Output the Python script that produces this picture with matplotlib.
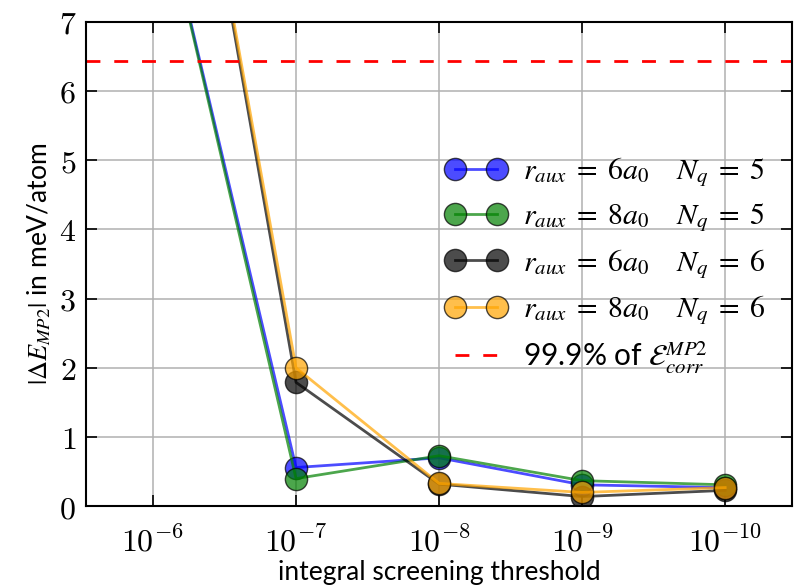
import matplotlib
matplotlib.use("Agg")
import matplotlib.pyplot as plt
from matplotlib.font_manager import FontProperties

# screening thresholds and MP2 errors (meV/atom)
thresholds = [1e-6, 1e-7, 1e-8, 1e-9, 1e-10]
err_r6_nq5 = [9.3, 0.56, 0.70, 0.31, 0.27]
err_r8_nq5 = [9.3, 0.40, 0.73, 0.37, 0.31]
err_r6_nq6 = [13.5, 1.79, 0.32, 0.14, 0.23]
err_r8_nq6 = [13.5, 2.00, 0.33, 0.20, 0.27]
corr_999 = 6.43

series = [
    (err_r6_nq5, "blue", r"$r_{aux}\;=\;6a_0\quad\; N_q\;=\;5$"),
    (err_r8_nq5, "green", r"$r_{aux}\;=\;8a_0\quad\; N_q\;=\;5$"),
    (err_r6_nq6, "black", r"$r_{aux}\;=\;6a_0\quad\; N_q\;=\;6$"),
    (err_r8_nq6, "orange", r"$r_{aux}\;=\;8a_0\quad\; N_q\;=\;6$"),
]
xtick_labels = [r"$10^{-6}$", r"$10^{-7}$", r"$10^{-8}$", r"$10^{-9}$", r"$10^{-10}$"]
yticks = [0, 1, 2, 3, 4, 5, 6, 7]

fig = plt.figure(figsize=(7.94, 5.88), dpi=100)
ax = fig.add_axes([0.108, 0.139, 0.89, 0.824])

for vals, color, label in series:
    ax.plot(thresholds, vals, "-o", color=color, alpha=0.7, lw=2,
            ms=16, mec="k", mew=1, label=label)
ax.axhline(corr_999, color="red", ls=(0, (5, 5)), lw=2,
           label=r"99.9% of $\mathcal{E}_{corr}^{MP2}$")

ax.set_xscale("log")
ax.set_xlim(10**-5.53, 10**-10.47)
ax.set_ylim(0, 7)
ax.set_xticks(thresholds)
ax.set_xticklabels(xtick_labels, math_fontfamily="cm", fontsize=23)
ax.minorticks_off()
ax.set_yticks(yticks)
ax.set_yticklabels([rf"${v}$" for v in yticks], math_fontfamily="cm", fontsize=23)
ax.tick_params(direction="in", length=8, width=1.2, top=True, right=True, pad=7)
ax.tick_params(axis="x", pad=15)
ax.grid(True, color="#b0b0b0", lw=1.1)
for sp in ax.spines.values():
    sp.set_linewidth(1.5)

ax.set_xlabel("integral screening threshold", family="Lato", fontsize=19, labelpad=1)
ax.set_ylabel(r"$|\Delta E_{MP2}|$ in meV/atom", family="Lato", fontsize=19,
              math_fontfamily="stix", labelpad=4)

leg_font = FontProperties(family="Lato", size=21.5, math_fontfamily="stix")
ax.legend(loc="center right", bbox_to_anchor=(1.0, 0.497), frameon=False,
          numpoints=2, handlelength=2.0, handletextpad=0.6, prop=leg_font,
          labelspacing=0.42)

fig.savefig("out.png", dpi=100)
